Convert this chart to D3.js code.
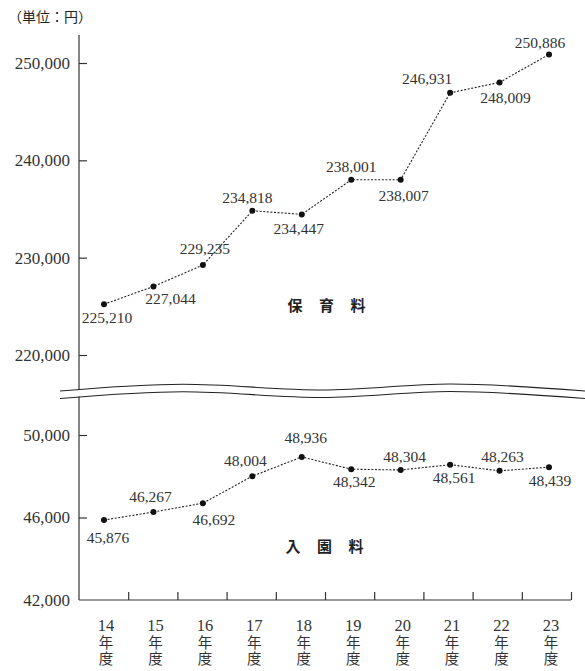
<!DOCTYPE html>
<html><head><meta charset="utf-8">
<script src="https://cdn.jsdelivr.net/npm/d3@7"></script>
<style>
html,body{margin:0;padding:0;background:#fff;}
svg{display:block;}
</style>
</head><body>
<svg id="chart" width="585" height="671"></svg>
<script>
// ---- data ----
const years = ["14","15","16","17","18","19","20","21","22","23"];
const hoikuryo = [225210,227044,229235,234818,234447,238001,238007,246931,248009,250886];
const nyuenryo = [45876,46267,46692,48004,48936,48342,48304,48561,48263,48439];
const upperTicks = [220000,230000,240000,250000];
const lowerTicks = [42000,46000,50000];
const unitLabel = "（単位：円）";
const yearSuffix = "年度";
const upperName = ["保","育","料"];
const lowerName = ["入","園","料"];

// ---- label placement (offsets of label centre from point) ----
const upperLabelOffset = [[3,14],[17,13],[2,-16],[-5,-13],[-3,15],[0,-13],[3,16],[-23,-14],[6,16],[-9,-11]];
const lowerLabelOffset = [[4,18],[-3,-15],[11,17],[-7,-15],[4,-19],[3,13],[4,-13],[4,13],[3,-14],[1,14]];

const svg = d3.select("#chart");
const serif = "Liberation Serif, Times New Roman, serif";
const cjk = "Noto Sans CJK JP, sans-serif";
const axisColor = "#333";
const left = 79, right = 571, bottom = 600;

const yUp = d3.scaleLinear().domain([220000,250000]).range([355,63]);
const yLo = d3.scaleLinear().domain([42000,50000]).range([600,435]);
const xPt = d3.scalePoint().domain(years).range([104,549]);
const xIdx = d3.scaleLinear().domain([0,years.length]).range([left,right]);

// unit label
svg.append("text").attr("x",8).attr("y",22)
  .attr("font-family",cjk).attr("font-size",14).attr("fill","#222").text(unitLabel);

// break curve
const breakPts = [[60,391],[183,384.3],[323,390],[450,384],[585,391]];
const breakLine = d3.line().curve(d3.curveMonotoneX);
const gap = 7.5;
const lowerBreak = breakPts.map(p=>[p[0],p[1]+gap]);

// y axis line segments
svg.append("line").attr("x1",left).attr("x2",left).attr("y1",35).attr("y2",389.5)
  .attr("stroke",axisColor).attr("stroke-width",1.2);
svg.append("line").attr("x1",left).attr("x2",left).attr("y1",396.5).attr("y2",bottom)
  .attr("stroke",axisColor).attr("stroke-width",1.2);

svg.append("path").attr("d",breakLine(breakPts)).attr("fill","none").attr("stroke","#222").attr("stroke-width",1.1);
svg.append("path").attr("d",breakLine(lowerBreak)).attr("fill","none").attr("stroke","#222").attr("stroke-width",1.1);

// y axes
function styleAxis(g){
  g.select(".domain").remove();
  g.selectAll(".tick line").attr("stroke",axisColor).attr("stroke-width",1.2);
  g.selectAll(".tick text").attr("font-family",serif).attr("font-size",17).attr("fill","#333");
}
const fmt = d3.format(",");
svg.append("g").attr("transform",`translate(${left},0)`)
  .call(d3.axisLeft(yUp).tickValues(upperTicks).tickFormat(fmt).tickSizeInner(-8).tickSizeOuter(0).tickPadding(9))
  .call(styleAxis);
svg.append("g").attr("transform",`translate(${left},0)`)
  .call(d3.axisLeft(yLo).tickValues(lowerTicks).tickFormat(fmt).tickSizeInner(-8).tickSizeOuter(0).tickPadding(9))
  .call(g=>{styleAxis(g); g.selectAll(".tick").filter(d=>d===42000).select("line").remove();});

// x axis
svg.append("line").attr("x1",left).attr("x2",right).attr("y1",bottom).attr("y2",bottom)
  .attr("stroke",axisColor).attr("stroke-width",1.2);
svg.append("g").attr("transform",`translate(0,${bottom})`)
  .call(d3.axisBottom(xIdx).tickValues(d3.range(1,years.length+1)).tickFormat("").tickSizeInner(-8).tickSizeOuter(0))
  .call(g=>{g.select(".domain").remove(); g.selectAll(".tick line").attr("stroke",axisColor).attr("stroke-width",1.2);});

// x labels: number horizontal, 年度 set vertically
const xl = svg.append("g");
years.forEach(y=>{
  const cx = xPt(y)+2;
  xl.append("text").attr("x",cx).attr("y",630.5).attr("text-anchor","middle")
    .attr("font-family",serif).attr("font-size",16.5).attr("fill","#333").text(y);
  xl.append("text").attr("x",cx).attr("y",635)
    .attr("writing-mode","vertical-rl").attr("style","writing-mode:vertical-rl;letter-spacing:1.5px")
    .attr("font-family",cjk).attr("font-size",14.5).attr("fill","#333").text(yearSuffix);
});

// series
function drawSeries(values, yScale, offsets){
  const g = svg.append("g");
  const line = d3.line().x((d,i)=>xPt(years[i])).y(d=>yScale(d));
  g.append("path").attr("d",line(values)).attr("fill","none")
    .attr("stroke","#222").attr("stroke-width",1.1).attr("stroke-dasharray","2,1.6");
  g.selectAll("circle").data(values).join("circle")
    .attr("cx",(d,i)=>xPt(years[i])).attr("cy",d=>yScale(d)).attr("r",3).attr("fill","#111");
  g.selectAll("text").data(values).join("text")
    .attr("x",(d,i)=>xPt(years[i])+offsets[i][0])
    .attr("y",(d,i)=>yScale(d)+offsets[i][1]+5)
    .attr("text-anchor","middle").attr("font-family",serif).attr("font-size",15.5).attr("fill","#333")
    .text(d=>fmt(d));
}
drawSeries(hoikuryo, yUp, upperLabelOffset);
drawSeries(nyuenryo, yLo, lowerLabelOffset);

// series names
function drawName(chars, cx, cy){
  chars.forEach((c,i)=>{
    svg.append("text").attr("x",cx+(i-1)*31.5).attr("y",cy+5.5).attr("text-anchor","middle")
      .attr("font-family",cjk).attr("font-weight","bold").attr("font-size",15).attr("fill","#222").text(c);
  });
}
drawName(upperName, 326.5, 305);
drawName(lowerName, 324.5, 546);
</script>
</body></html>
